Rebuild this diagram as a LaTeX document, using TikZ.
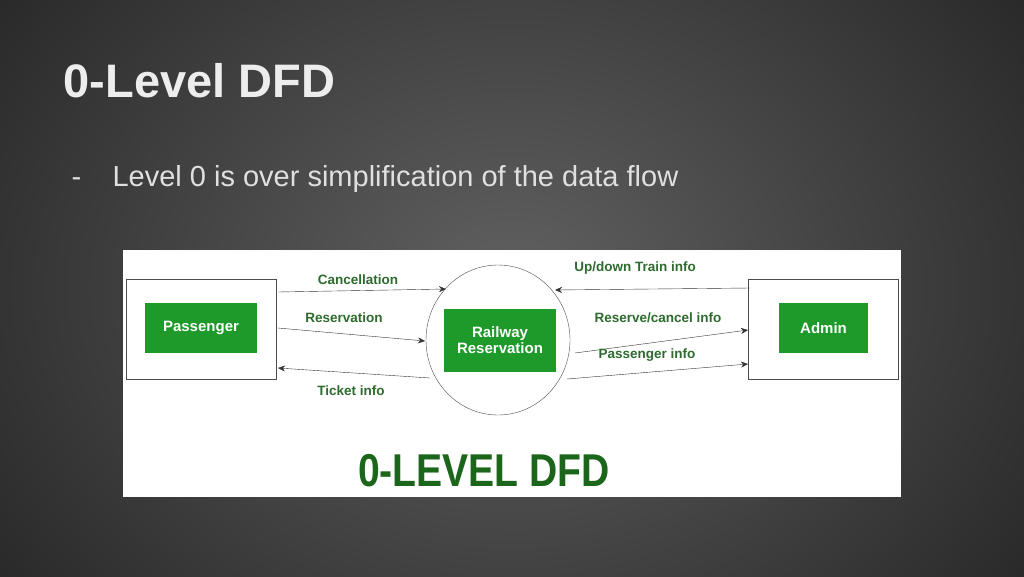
\documentclass[tikz,border=0pt]{standalone}
\usepackage{fontspec}
\setmainfont{Liberation Sans}
\usetikzlibrary{arrows.meta}
\definecolor{boxgreen}{HTML}{1E9A2A}
\definecolor{labgreen}{HTML}{2E6B2E}
\definecolor{dfdgreen}{HTML}{1B661B}
\tikzset{
  entity/.style={draw=black!70,thin,minimum width=150pt,minimum height=100pt},
  greenbox/.style={fill=boxgreen,text=white,font=\bfseries\fontsize{15}{16}\selectfont,align=center,inner sep=0pt},
  flowlabel/.style={text=labgreen,font=\bfseries\fontsize{13.5}{15}\selectfont},
}
\begin{document}
\begin{tikzpicture}[
    x=1pt,y=-1pt,
    flow/.style={thin,draw=black!80,-{Stealth[length=7pt,width=6pt]}}
    ]
    \useasboundingbox (0,0) rectangle (1024,576);
    \shade[inner color=black!62,outer color=black!85] (-150,-250) rectangle (1174,826);
    \fill[black!85,opacity=0] (0,0) rectangle (1024,576);
    \node[anchor=base west,text=white!93!black,font=\bfseries\fontsize{47}{50}\selectfont] (title) at (60,97) {0-Level DFD};
    \node[anchor=base west,text=white!88!black,font=\fontsize{29}{32}\selectfont] (dash) at (68,186) {-};
    \node[anchor=base west,text=white!88!black,font=\fontsize{29}{32}\selectfont] (sub) at (109,186) {Level 0 is over simplification of the data flow};
    % picture
    \fill[white] (123,250) rectangle (901,497);
    \node[entity] (pass) at (201,329) {};
    \node[entity] (admin) at (823.5,329) {};
    \node[greenbox,minimum width=112pt,minimum height=50pt] (passg) at (201,328) {Passenger};
    \node[greenbox,minimum width=89pt,minimum height=50pt] (adming) at (823.5,328) {Admin};
    \draw[black!70,thin] (498,340) ellipse [x radius=72,y radius=75];
    \coordinate (proc) at (498,340);
    \node[greenbox,minimum width=112pt,minimum height=63pt] (railg) at (500,340) {Railway\\Reservation};
    \coordinate (pc1) at (278,292); \coordinate (rc1) at (446,289);
    \coordinate (pc2) at (278,328); \coordinate (rc2) at (425,341);
    \coordinate (pc3) at (278,368); \coordinate (rc3) at (430,378);
    \coordinate (ac1) at (750,288); \coordinate (rc4) at (555,290);
    \coordinate (rc5) at (575,353); \coordinate (ac2) at (748,330);
    \coordinate (rc6) at (567,379); \coordinate (ac3) at (748,364);
    \draw[flow] (pc1) -- (rc1);
    \draw[flow] (pc2) -- (rc2);
    \draw[flow] (rc3) -- (pc3);
    \draw[flow] (ac1) -- (rc4);
    \draw[flow] (rc5) -- (ac2);
    \draw[flow] (rc6) -- (ac3);
    \node[flowlabel] (l1) at (358,280) {Cancellation};
    \node[flowlabel] (l2) at (344,318) {Reservation};
    \node[flowlabel] (l3) at (351,391) {Ticket info};
    \node[flowlabel] (l4) at (635,268) {Up/down Train info};
    \node[flowlabel] (l5) at (658,318) {Reserve/cancel info};
    \node[flowlabel] (l6) at (647,355) {Passenger info};
    \node[text=dfdgreen,font=\bfseries\fontsize{46}{48}\selectfont,xscale=0.85] (cap) at (484,471) {0-LEVEL DFD};
\end{tikzpicture}
\end{document}
